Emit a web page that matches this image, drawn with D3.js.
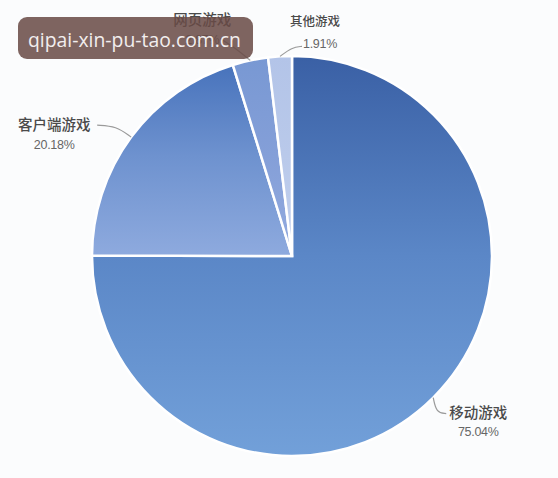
<!DOCTYPE html>
<html><head><meta charset="utf-8">
<script src="https://cdn.jsdelivr.net/npm/d3@7/dist/d3.min.js"></script>
<style>
html,body{margin:0;padding:0;background:#fbfcfd;}
svg{display:block;}
</style></head>
<body>
<svg id="chart" width="558" height="478"></svg>
<script>
const categories = ["移动游戏", "客户端游戏", "网页游戏", "其他游戏"];
const values = [75.04, 20.18, 2.87, 1.91];
const pctLabels = ["75.04%", "20.18%", "2.87%", "1.91%"];
const watermarkText = "qipai-xin-pu-tao.com.cn";

const W = 558, H = 478, cx = 292, cy = 256, R = 200;
const svg = d3.select("#chart");
svg.append("rect").attr("width", W).attr("height", H).attr("fill", "#fbfcfd");

const defs = svg.append("defs");
const grads = [
  {c: ["#3a60a5", "#5b87c7", "#72a0d9"], y1: -R, y2: R},
  {c: ["#4470ba", "#6e92cf", "#8eaade"], y1: -R, y2: 0},
  {c: ["#7898d3", "#849fd8", "#93abdf"], y1: -R, y2: 0},
  {c: ["#b3c4e8", "#b9c9ea", "#c2d0ee"], y1: -R, y2: 0}
];
grads.forEach((g, i) => {
  const lg = defs.append("linearGradient").attr("id", "g" + i)
    .attr("gradientUnits", "userSpaceOnUse")
    .attr("x1", 0).attr("y1", g.y1)
    .attr("x2", 0).attr("y2", g.y2);
  lg.append("stop").attr("offset", "0%").attr("stop-color", g.c[0]);
  lg.append("stop").attr("offset", "50%").attr("stop-color", g.c[1]);
  lg.append("stop").attr("offset", "100%").attr("stop-color", g.c[2]);
});

const pie = d3.pie().sort(null).value(d => d);
const arcs = pie(values);
const arc = d3.arc().innerRadius(0).outerRadius(R);
const edge = d3.arc().innerRadius(R).outerRadius(R);

const g = svg.append("g").attr("transform", `translate(${cx},${cy})`);
g.selectAll("path.slice").data(arcs).enter().append("path")
  .attr("class", "slice")
  .attr("d", arc)
  .attr("fill", (d, i) => `url(#g${i})`)
  .attr("stroke", "#ffffff")
  .attr("stroke-width", 2.5)
  .attr("stroke-linejoin", "miter");

// label layout: elbow offsets & text offsets relative to slice edge point
const layout = [
  {p1: [3, 15], p2: [13, 16], tx: 45, ty: 15, fs: 14.5},
  {p1: [-15, -11], p2: [-34, -12], tx: -77, ty: -12, fs: 14.5},
  {p1: [-16, -13], p2: [-30, -22], tx: -48, ty: -40, fs: 14.5},
  {p1: [12, -9], p2: [22, -10], tx: 35, ty: -35, fs: 12.5}
];

const lab = g.append("g");
arcs.forEach((d, i) => {
  const [sx, sy] = edge.centroid(d);
  const L = layout[i];
  const pts = [[sx, sy], [sx + L.p1[0], sy + L.p1[1]], [sx + L.p2[0], sy + L.p2[1]]];
  lab.append("path")
    .attr("d", d3.line().curve(d3.curveBasis)(pts))
    .attr("fill", "none").attr("stroke", "#9a9a9a").attr("stroke-width", 1.2);
  const tx = sx + L.tx, ty = sy + L.ty;
  lab.append("text").attr("x", tx).attr("y", ty).attr("dy", "0.35em")
    .attr("text-anchor", "middle")
    .attr("font-family", "'Noto Sans CJK SC', sans-serif")
    .attr("font-size", L.fs).attr("font-weight", 500).attr("fill", "#4a4a4a")
    .text(categories[i]);
  lab.append("text").attr("x", tx + (i === 3 ? 5 : 0)).attr("y", ty + (i === 3 ? 22 : 19)).attr("dy", "0.35em")
    .attr("text-anchor", "middle")
    .attr("font-family", "'Liberation Sans', Arial, sans-serif")
    .attr("font-size", 12.5).attr("fill", "#666")
    .attr("letter-spacing", -0.3)
    .text(pctLabels[i]);
});

// watermark
const wm = svg.append("g");
wm.append("rect").attr("x", 18).attr("y", 17).attr("width", 235).attr("height", 42)
  .attr("rx", 9).attr("fill", "rgba(105,75,70,0.86)");
wm.append("text").attr("x", 28).attr("y", 47)
  .attr("font-family", "'Open Sans', 'DejaVu Sans', sans-serif")
  .attr("font-size", 20).attr("fill", "#f2eeee")
  .attr("textLength", 213).attr("lengthAdjust", "spacingAndGlyphs")
  .text(watermarkText);
</script>
</body></html>
